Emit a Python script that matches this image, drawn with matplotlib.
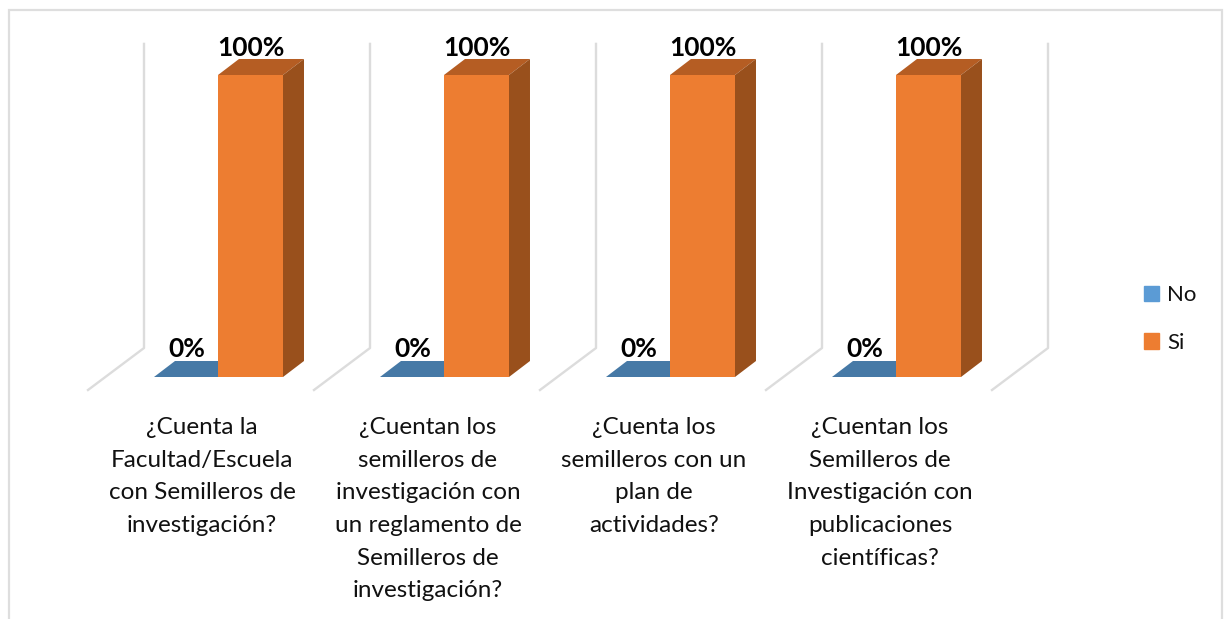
import matplotlib
matplotlib.use("Agg")
import matplotlib.pyplot as plt
from matplotlib.patches import Patch, Rectangle

# === DATA ===
categories = [
    "¿Cuenta la\nFacultad/Escuela\ncon Semilleros de\ninvestigación?",
    "¿Cuentan los\nsemilleros de\ninvestigación con\nun reglamento de\nSemilleros de\ninvestigación?",
    "¿Cuenta los\nsemilleros con un\nplan de\nactividades?",
    "¿Cuentan los\nSemilleros de\nInvestigación con\npublicaciones\ncientíficas?",
]
no_values = [0, 0, 0, 0]
si_values = [100, 100, 100, 100]
series_names = ["No", "Si"]

# === STYLE ===
W, H = 1231, 619
plt.rcParams["font.family"] = ["Lato", "DejaVu Sans"]
bar_w = 0.2876
no_left = -0.2124
si_left = 0.0708
depth_x = 0.0929
depth_y = 5.3
wall_color = "#dcdcdc"


def box(ax, left, value, front, top, side):
    # fake 3d column: front face, top face, right face
    if value > 0:
        ax.bar(left, value, bar_w, align="edge", color=front, zorder=3)
        ax.fill([left + bar_w, left + bar_w + depth_x, left + bar_w + depth_x, left + bar_w],
                [0, depth_y, value + depth_y, value], color=side, lw=0, zorder=3, clip_on=False)
    ax.fill([left, left + bar_w, left + bar_w + depth_x, left + depth_x],
            [value, value, value + depth_y, value + depth_y], color=top, lw=0, zorder=2, clip_on=False)


fig = plt.figure(figsize=(W / 100, H / 100), dpi=100)
fig.patches.append(Rectangle((9 / W, -0.1), (1222 - 9) / W, 1.1 - 10 / H, transform=fig.transFigure,
                             fill=False, ec="#dedede", lw=1.6))

# axes box: x 89..993 px, y 75..377 px
ax = fig.add_axes([89 / W, 1 - 377 / H, 904 / W, 302 / H])
ax.set_xlim(-0.5, 3.5)
ax.set_ylim(0, 100)
ax.patch.set_visible(False)
for s in ax.spines.values():
    s.set_visible(False)

# walls and floor lines
for i in range(5):
    x = i - 0.2566
    ax.plot([x - 0.2478, x, x], [-4.3, 9.6, 110.3], color=wall_color, lw=1.7, clip_on=False, zorder=1)

for i in range(len(categories)):
    box(ax, i + no_left, no_values[i], "#5B9BD5", "#4679A6", "#3A6A94")
    box(ax, i + si_left, si_values[i], "#ED7D31", "#B55D23", "#99501C")
    ax.text(i + no_left + bar_w / 2, no_values[i] + 6.6, f"{no_values[i]}%", ha="center", va="baseline",
            fontsize=19, fontweight="bold", color="black", zorder=5, clip_on=False)
    ax.text(i + si_left + bar_w / 2, si_values[i] + 6.3, f"{si_values[i]}%", ha="center", va="baseline",
            fontsize=19, fontweight="bold", color="black", zorder=5, clip_on=False)

ax.set_yticks([])
ax.set_xticks(range(len(categories)))
ax.set_xticklabels(categories, fontsize=17.5, color="#111111", linespacing=1.68)
ax.tick_params(axis="x", length=0, pad=29)

handles = [Patch(color="#5B9BD5"), Patch(color="#ED7D31")]
fig.legend(handles, series_names, loc="center left", bbox_to_anchor=(1124 / W, 1 - 319 / H), frameon=False,
           fontsize=16, handlelength=0.68, handleheight=0.68, handletextpad=0.35, labelspacing=1.25,
           labelcolor="#111111")

fig.savefig("out.png", dpi=100)
